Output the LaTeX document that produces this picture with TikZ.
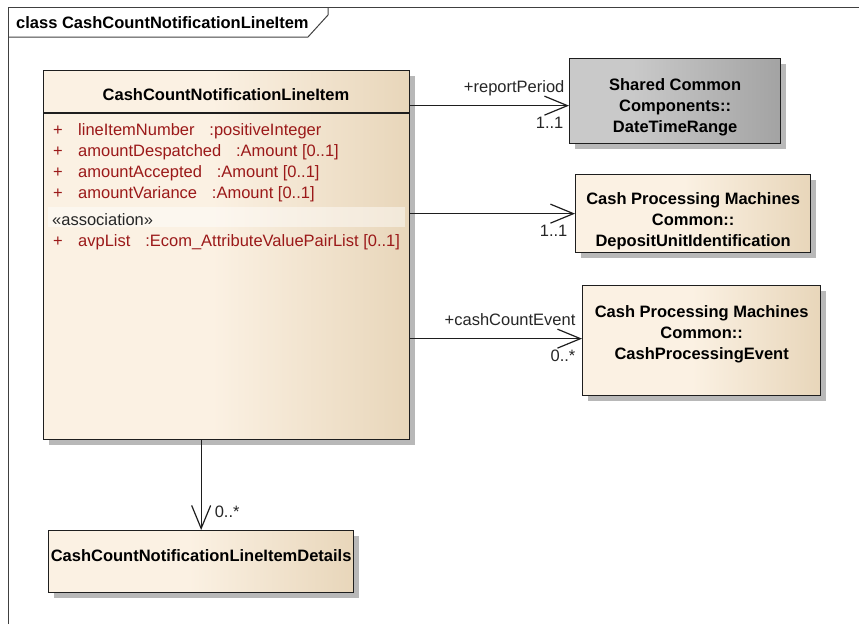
\documentclass[tikz,border=0pt]{standalone}
\usepackage{fontspec}
\setmainfont{Liberation Sans}
\usetikzlibrary{positioning,arrows.meta,shadows}

\definecolor{clsL}{RGB}{251,241,227}
\definecolor{clsR}{RGB}{232,214,186}
\definecolor{refL}{RGB}{201,201,201}
\definecolor{refR}{RGB}{163,163,163}
\definecolor{attrred}{RGB}{155,25,25}
\definecolor{lineclr}{RGB}{30,30,30}

\pgfdeclarehorizontalshading{clsshade}{100bp}{color(0bp)=(clsL); color(48bp)=(clsL); color(75bp)=(clsR); color(100bp)=(clsR)}
\pgfdeclarehorizontalshading{refshade}{100bp}{color(0bp)=(refL); color(40bp)=(refL); color(75bp)=(refR); color(100bp)=(refR)}

\newcommand\umlfont{\fontsize{16.5}{21}\selectfont}

\tikzset{
  frameline/.style={draw=black!75, line width=1pt},
  frametitle/.style={font=\umlfont\bfseries, inner sep=0pt},
  umlshadow/.style={drop shadow={shadow xshift=5pt, shadow yshift=-5pt, fill=black!28, opacity=1}},
  clsbox/.style={draw=lineclr, line width=1.3pt, shading=clsshade, umlshadow},
  refbox/.style={draw=lineclr, line width=1.3pt, shading=refshade, umlshadow},
  clsline/.style={draw=lineclr, line width=1.3pt},
  clstitle/.style={font=\umlfont\bfseries, inner sep=0pt, align=center},
  attr/.style={font=\umlfont, text=attrred, inner sep=0pt},
  assocband/.style={fill=white, fill opacity=0.45},
  role/.style={font=\umlfont, text=black!85, inner sep=0pt},
  assoc/.style={draw=lineclr, line width=1.2pt, -{Straight Barb[length=23pt, width=19pt]}}
}

\begin{document}
\begin{tikzpicture}[x=1pt, y=-1pt]
  \useasboundingbox (0,0) rectangle (859,624);

  % Diagram frame and its tab
  \draw[frameline] (8,624) -- (8,7) -- (859,7);
  \draw[frameline] (8,37) -- (308,37) -- (328,15) -- (328,7);
  \node[frametitle, anchor=base west] (frametitle) at (16,28) {class CashCountNotificationLineItem};

  % Main class
  \node[clsbox, minimum width=366pt, minimum height=369pt, anchor=north west] (main) at (43,70) {};
  \coordinate (hdr) at (0,113);
  \draw[clsline] (main.west |- hdr) -- (main.east |- hdr);
  \node[clstitle] (mainname) at (226,95) {CashCountNotificationLineItem};

  % Attributes
  \foreach \nm/\ty [count=\i] in {lineItemNumber/positiveInteger, amountDespatched/Amount [0..1],
      amountAccepted/Amount [0..1], amountVariance/Amount [0..1]} {
    \node[attr, anchor=base west] (plus\i) at (53,114.7+21*\i) {+};
    \node[attr, anchor=base west] (attr\i) at (78,114.7+21*\i) {\nm\hspace{0.9em}:\ty};
  }
  \fill[assocband] (48,207) rectangle (405,227);
  \node[role, anchor=base west] (stereo) at (52,225.7) {«association»};
  \node[attr, anchor=base west] (plus5) at (53,246.7) {+};
  \node[attr, anchor=base west] (attr5) at (78,246.7) {avpList\hspace{0.9em}:Ecom\_AttributeValuePairList [0..1]};

  % Referenced classes
  \node[refbox, minimum width=211pt, minimum height=85pt, anchor=north west] (dtr) at (569,58) {};
  \node[clstitle, below=20pt of dtr.north] (dtrname) {Shared Common\\Components::\\DateTimeRange};

  \node[clsbox, minimum width=235pt, minimum height=78pt, anchor=north west] (dui) at (575,174) {};
  \node[clstitle, below=18pt of dui.north] (duiname) {Cash Processing Machines\\Common::\\DepositUnitIdentification};

  \node[clsbox, minimum width=238pt, minimum height=110pt, anchor=north west] (cpe) at (582,285) {};
  \node[clstitle, below=20pt of cpe.north] (cpename) {Cash Processing Machines\\Common::\\CashProcessingEvent};

  \node[clsbox, minimum width=305pt, minimum height=62pt, anchor=north west] (details) at (48,530) {};
  \node[clstitle, below=19pt of details.north] (detailsname) {CashCountNotificationLineItemDetails};

  % Associations
  \coordinate (rpEnd) at ([yshift=-4.5pt]dtr.west);
  \draw[assoc] (main.east |- rpEnd) -- (rpEnd)
    node[role, anchor=base east, xshift=-4pt, yshift=13pt] (rpRole) {+reportPeriod}
    node[role, anchor=base east, xshift=-5pt, yshift=-23pt] (rpMult) {1..1};
  \draw[assoc] (main.east |- dui.west) -- (dui.west)
    node[role, anchor=base east, xshift=-7pt, yshift=-23pt] (duiMult) {1..1};
  \coordinate (ceEnd) at ([yshift=2pt]cpe.west);
  \draw[assoc] (main.east |- ceEnd) -- (ceEnd)
    node[role, anchor=base east, xshift=-6pt, yshift=13pt] (ceRole) {+cashCountEvent}
    node[role, anchor=base east, xshift=-6pt, yshift=-23pt] (ceMult) {0..*};
  \draw[assoc] (main.south -| details.north) -- (details.north)
    node[role, anchor=base west, xshift=13pt, yshift=13pt] (detMult) {0..*};

\end{tikzpicture}
\end{document}
